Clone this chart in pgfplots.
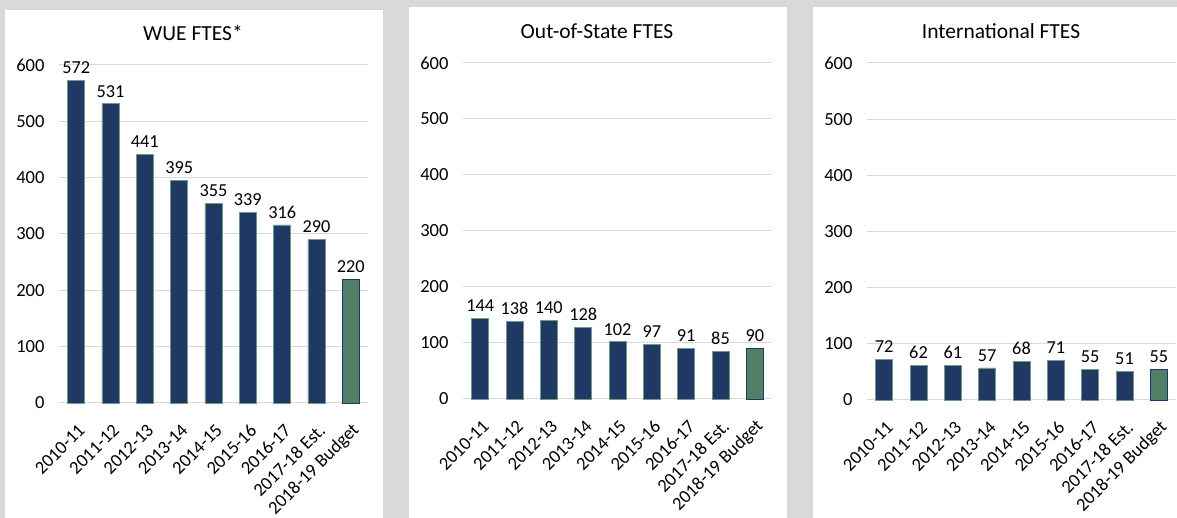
\documentclass[border=0pt]{standalone}
\usepackage{pgfplots}
\pgfplotsset{compat=1.18}
\usepackage{fontspec}
\setmainfont{Carlito}
\definecolor{navy}{HTML}{203864}
\definecolor{bgreen}{HTML}{537F67}
\definecolor{bord}{HTML}{6F9A86}
\definecolor{bg}{HTML}{D9D9D9}
\definecolor{gridc}{HTML}{D9D9D9}
\pgfplotsset{
 panel/.style={
  scale only axis, width=309pt, anchor=south west,
  xmin=-0.5, xmax=8.5, ymin=0, ymax=600,
  xtick={0,...,8},
  xticklabels={2010-11,2011-12,2012-13,2013-14,2014-15,2015-16,2016-17,2017-18 Est.,2018-19 Budget},
  ytick={0,100,...,600},
  ymajorgrids, grid style={draw=gridc, line width=1pt},
  axis line style={draw=none},
  major tick length=0pt,
  /pgf/number format/assume math mode=true,
  tick label style={font=\fontsize{18.5}{22}\selectfont, text=black},
  yticklabel style={xshift=-11pt},
  xticklabel style={font=\fontsize{18.5}{22}\selectfont, xshift=8pt, yshift=-22pt, rotate=45, anchor=east},
  ybar, bar width=17pt, bar shift=0pt,
  nodes near coords,
  nodes near coords style={font=\fontsize{18.3}{22}\selectfont, text=black, yshift=3pt},
  clip=false,
 },
 navybar/.style={fill=navy, draw=bord, line width=0.8pt},
 greenbar/.style={fill=bgreen, draw=navy, line width=0.8pt},
}
\begin{document}
\begin{tikzpicture}
\useasboundingbox (0pt,0pt) rectangle (1177pt,518pt);
\fill[bg] (0pt,0pt) rectangle (1177pt,518pt);
\fill[white] (5pt,0pt) rectangle (383pt,508pt);
\fill[white] (409pt,0pt) rectangle (787pt,511pt);
\fill[white] (813pt,0pt) rectangle (1177pt,511pt);
\node[font=\fontsize{21.5}{25}\selectfont] at (193pt,485pt) {WUE FTES*};
\node[font=\fontsize{21.5}{25}\selectfont] at (597pt,487pt) {Out-of-State FTES};
\node[font=\fontsize{21.5}{25}\selectfont] at (1001pt,487pt) {International FTES};

\begin{axis}[panel, at={(59pt,115pt)}, height=338pt]
\addplot[navybar] coordinates {(0,572) (1,531) (2,441) (3,395) (4,355) (5,339) (6,316) (7,290)};
\addplot[greenbar] coordinates {(8,220)};
\end{axis}

\begin{axis}[panel, at={(463pt,119pt)}, height=336pt]
\addplot[navybar] coordinates {(0,144) (1,138) (2,140) (3,128) (4,102) (5,97) (6,91) (7,85)};
\addplot[greenbar] coordinates {(8,90)};
\end{axis}

\begin{axis}[panel, at={(867pt,118pt)}, height=337pt]
\addplot[navybar] coordinates {(0,72) (1,62) (2,61) (3,57) (4,68) (5,71) (6,55) (7,51)};
\addplot[greenbar] coordinates {(8,55)};
\end{axis}
\end{tikzpicture}
\end{document}
